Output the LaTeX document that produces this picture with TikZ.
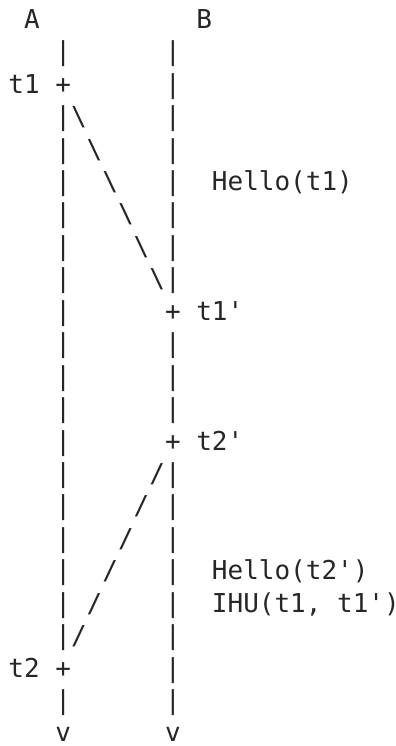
\documentclass[tikz,border=0pt]{standalone}
\usepackage{fontspec}
\setmonofont{DejaVu Sans Mono}
\begin{document}
\begin{tikzpicture}[x=15.65pt, y=-32.44pt,
    every node/.style={inner sep=0pt, outer sep=0pt, text=black!85,
        font=\ttfamily\fontsize{26.0}{32.4}\selectfont},
    ch/.style={anchor=base},
    lbl/.style={anchor=base west},
    tip/.style={ch, text depth=0pt}]

    % Margini come nel riferimento
    \useasboundingbox (-0.543,-0.872) rectangle (24.76,22.124);

    % Colonne dei due nodi: A in colonna 3, B in colonna 10
    \def\ca{3.5}
    \def\cb{10.5}

    % Nomi dei nodi
    \node[ch] (A) at (1.5,0) {A};
    \node[ch] (B) at (12.5,0) {B};

    % Linea temporale di A
    \foreach \r in {1,21} {
        \node[ch] at (\ca,\r) {|};
    }
    \foreach \r in {3,...,19} {
        \node[ch] at (\ca,\r) {|};
    }
    \node[tip] (endA) at (\ca,22) {v};

    % Linea temporale di B
    \foreach \r in {1,...,8} {
        \node[ch] at (\cb,\r) {|};
    }
    \foreach \r in {10,11,12,14,15,...,21} {
        \node[ch] at (\cb,\r) {|};
    }
    \node[tip] (endB) at (\cb,22) {v};

    % Istanti t1, t1', t2', t2
    \node[ch] (pt1) at (\ca,2) {+};
    \node[lbl] (t1) at (0,2) {t1};
    \node[ch] (pt1b) at (\cb,9) {+};
    \node[lbl] (t1b) at (12,9) {t1'};
    \node[ch] (pt2b) at (\cb,13) {+};
    \node[lbl] (t2b) at (12,13) {t2'};
    \node[ch] (pt2) at (\ca,20) {+};
    \node[lbl] (t2) at (0,20) {t2};

    % Messaggio da A a B
    \foreach \r in {3,...,8} {
        \node[ch] at (\r+1.5,\r) {\textbackslash};
    }
    \node[lbl] (hello1) at (13,5) {Hello(t1)};

    % Messaggio da B ad A
    \foreach \r in {14,...,19} {
        \node[ch] at (23.5-\r,\r) {/};
    }
    \node[lbl] (hello2) at (13,17) {Hello(t2')};
    \node[lbl] (ihu) at (13,18) {IHU(t1, t1')};

\end{tikzpicture}
\end{document}
